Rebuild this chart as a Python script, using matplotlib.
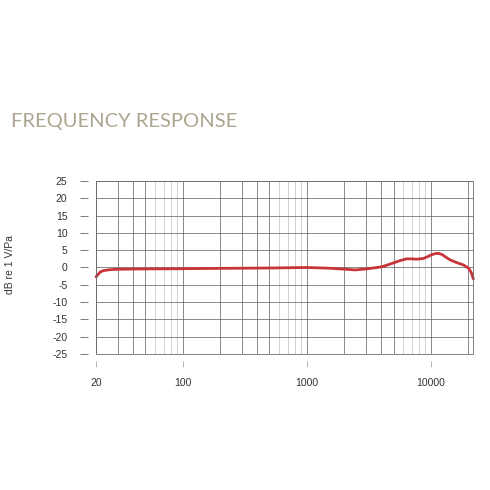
import numpy as np
import matplotlib
matplotlib.use("Agg")
import matplotlib.pyplot as plt
from matplotlib.patches import Rectangle

# frequency response (Hz, dB re 1 V/Pa)
freq_hz = [20, 21.6, 23, 25, 28, 32, 40, 60, 100, 200, 500, 1000, 1500, 2040,
           2450, 3050, 3500, 4030, 4700, 5660, 6380, 7000, 7700, 8670, 9400,
           10000, 10800, 11380, 12250, 13200, 14300, 16200, 18400, 20200,
           21200, 22000]
level_db = [-2.7, -1.3, -0.9, -0.7, -0.55, -0.5, -0.45, -0.4, -0.35, -0.25,
            -0.15, 0.0, -0.2, -0.5, -0.7, -0.4, -0.1, 0.2, 1.0, 2.0, 2.5,
            2.5, 2.4, 2.6, 3.1, 3.6, 4.0, 4.1, 3.8, 3.0, 2.2, 1.4, 0.7,
            -0.25, -1.5, -3.3]

xtick_vals = [20, 100, 1000, 10000]
xtick_labels = ["20", "100", "1000", "10000"]
ytick_vals = list(range(-25, 30, 5))

fig = plt.figure(figsize=(4.9, 4.9), dpi=100)
ax = fig.add_axes([0.196, 0.2776, 0.77, 0.353])
ax.set_xscale("log")
ax.set_xlim(20, 22000)
ax.set_ylim(-25, 25)

# log grid: darker 1-5 per decade, lighter 6-9
for dec in [10, 100, 1000, 10000]:
    for m in range(1, 10):
        f = m * dec
        if f < 20 or f > 22000:
            continue
        c = "#6a6a6a" if m <= 5 else "#c4c4c4"
        ax.axvline(f, color=c, lw=0.55, zorder=1)
for v in ytick_vals:
    ax.axhline(v, color="#6a6a6a", lw=0.55, zorder=1)

ax.plot(freq_hz, level_db, color="#c9343b", lw=2.0, solid_capstyle="round",
        zorder=3, clip_on=False)

for s in ax.spines.values():
    s.set_visible(False)
ax.spines["left"].set_position(("outward", 5.8))
ax.spines["bottom"].set_position(("outward", 5))
ax.add_patch(Rectangle((0, 0), 1, 1, transform=ax.transAxes, fill=False,
                       ec="#6a6a6a", lw=0.6, zorder=4, clip_on=False))

ax.set_xticks(xtick_vals)
ax.set_xticklabels(xtick_labels)
ax.xaxis.set_minor_locator(plt.NullLocator())
ax.set_yticks(ytick_vals)
ax.set_yticklabels([str(v) for v in ytick_vals])
ax.tick_params(axis="y", direction="out", length=5.8, width=0.6,
               color="#666666", pad=9, labelsize=7.5, labelcolor="#333333")
ax.tick_params(axis="x", direction="out", length=4.3, width=0.6,
               color="#aaaaaa", pad=8, labelsize=7.5, labelcolor="#333333")
for lab in ax.get_xticklabels() + ax.get_yticklabels():
    lab.set_family(["Liberation Sans", "DejaVu Sans"])

fig.text(11 / 490, 1 - 121 / 490, "FREQUENCY RESPONSE", ha="left", va="center",
         fontsize=14.5, color="#aca690", family=["Lato", "DejaVu Sans"],
         fontweight="normal")
fig.text(10 / 490, 1 - 265 / 490, "dB re 1 V/Pa", rotation=90, ha="center",
         va="center", fontsize=7.5, color="#333333",
         family=["Liberation Sans", "DejaVu Sans"])

fig.savefig("out.png", dpi=100, facecolor="white")
